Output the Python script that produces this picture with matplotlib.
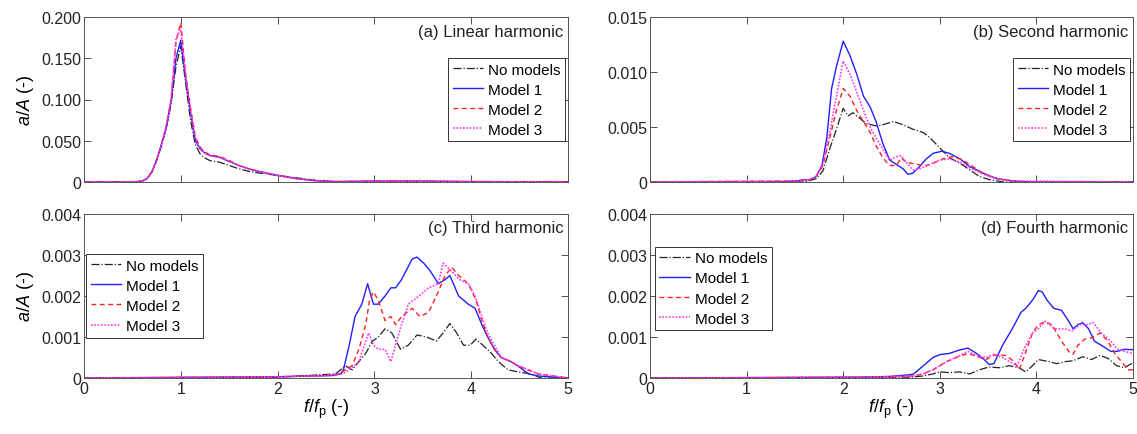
import matplotlib
matplotlib.use("Agg")
import matplotlib.pyplot as plt

plt.rcParams['font.family'] = ['Liberation Sans', 'DejaVu Sans']
plt.rcParams['mathtext.fontset'] = 'custom'
plt.rcParams['mathtext.rm'] = 'Liberation Sans'
plt.rcParams['mathtext.it'] = 'Liberation Sans:italic'
plt.rcParams['mathtext.bf'] = 'Liberation Sans:bold'

# ---------------- data ----------------
series_labels = ["No models", "Model 1", "Model 2", "Model 3"]
panel_titles = ["(a) Linear harmonic", "(b) Second harmonic",
                "(c) Third harmonic", "(d) Fourth harmonic"]

# (a) Linear harmonic
a_x = [0, 0.5, 0.6, 0.65, 0.7, 0.75, 0.8, 0.85, 0.9, 0.95, 1.0, 1.05, 1.1, 1.15,
       1.2, 1.25, 1.3, 1.4, 1.5, 1.6, 1.7, 1.8, 2.0, 2.2, 2.4, 2.6, 3.0, 3.5, 4.0, 4.5, 5.0]
a_none = [0, 0, 0.001, 0.004, 0.012, 0.026, 0.044, 0.065, 0.095, 0.14, 0.165, 0.12, 0.075, 0.045,
          0.034, 0.029, 0.026, 0.024, 0.020, 0.016, 0.013, 0.011, 0.008, 0.005, 0.002, 0.0005,
          0.0008, 0.0008, 0.0004, 0.0003, 0.0002]
a_m1 = [0, 0, 0.001, 0.004, 0.012, 0.026, 0.045, 0.066, 0.098, 0.15, 0.172, 0.125, 0.085, 0.05,
        0.040, 0.035, 0.032, 0.030, 0.025, 0.020, 0.016, 0.013, 0.008, 0.004, 0.0015, 0.0005,
        0.001, 0.001, 0.0005, 0.0003, 0.0002]
a_m2 = [0, 0, 0.001, 0.004, 0.012, 0.027, 0.046, 0.068, 0.10, 0.17, 0.193, 0.13, 0.09, 0.055,
        0.042, 0.036, 0.033, 0.031, 0.026, 0.020, 0.016, 0.013, 0.008, 0.004, 0.0015, 0.0005,
        0.001, 0.001, 0.0005, 0.0003, 0.0002]
a_m3 = [0, 0, 0.001, 0.004, 0.012, 0.027, 0.046, 0.068, 0.10, 0.173, 0.185, 0.13, 0.088, 0.053,
        0.041, 0.035, 0.032, 0.030, 0.025, 0.020, 0.016, 0.013, 0.008, 0.004, 0.0015, 0.0005,
        0.001, 0.001, 0.0005, 0.0003, 0.0002]

# (b) Second harmonic
b_none_x = [0, 1.6, 1.72, 1.79, 1.86, 1.93, 2.0, 2.05, 2.1, 2.17, 2.24, 2.34, 2.41, 2.52, 2.62,
            2.72, 2.83, 2.9, 3.0, 3.1, 3.21, 3.31, 3.41, 3.52, 3.66, 5.0]
b_none = [0, 0, 0.0003, 0.001, 0.003, 0.0048, 0.0067, 0.006, 0.0063, 0.0058, 0.0053, 0.0051,
          0.0052, 0.0055, 0.0052, 0.0048, 0.0045, 0.0040, 0.0031, 0.0022, 0.0017, 0.0011,
          0.0005, 0.0002, 0, 0]
b_m1_x = [0, 1.31, 1.52, 1.59, 1.66, 1.72, 1.78, 1.83, 1.88, 1.93, 2.0, 2.07, 2.14, 2.21, 2.28,
          2.34, 2.41, 2.48, 2.55, 2.62, 2.67, 2.72, 2.79, 2.86, 2.93, 3.02, 3.1, 3.21, 3.31,
          3.45, 3.59, 3.76, 3.93, 5.0]
b_m1 = [0, 0, 0.0001, 0.0002, 0.0002, 0.0005, 0.0015, 0.004, 0.0085, 0.0105, 0.0128, 0.0115,
        0.0098, 0.0078, 0.0068, 0.0055, 0.0035, 0.0020, 0.0016, 0.0012, 0.0007, 0.0008, 0.0014,
        0.0021, 0.0026, 0.0028, 0.0026, 0.0021, 0.0014, 0.0008, 0.0003, 0.0001, 0, 0]
b_m2_x = [0, 1.5, 1.65, 1.72, 1.79, 1.86, 1.93, 2.0, 2.07, 2.14, 2.21, 2.28, 2.34, 2.41, 2.48,
          2.55, 2.6, 2.65, 2.76, 2.86, 2.93, 3.03, 3.12, 3.21, 3.31, 3.41, 3.52, 3.66, 3.83, 5.0]
b_m2 = [0, 0.0001, 0.0002, 0.0005, 0.0015, 0.004, 0.0065, 0.0085, 0.0078, 0.0065, 0.0055,
        0.0045, 0.0033, 0.0022, 0.0015, 0.0015, 0.0022, 0.0018, 0.0016, 0.0015, 0.0017,
        0.0021, 0.0023, 0.0021, 0.0016, 0.0010, 0.0005, 0.0002, 0, 0]
b_m3_x = [0, 1.5, 1.65, 1.72, 1.79, 1.86, 1.93, 2.0, 2.07, 2.14, 2.21, 2.28, 2.34, 2.41, 2.48,
          2.55, 2.6, 2.65, 2.72, 2.79, 2.9, 3.0, 3.1, 3.21, 3.31, 3.45, 3.59, 3.76, 5.0]
b_m3 = [0, 0.0001, 0.0002, 0.0005, 0.0016, 0.0045, 0.0078, 0.011, 0.0098, 0.0082, 0.0065,
        0.0050, 0.0040, 0.0030, 0.0020, 0.0023, 0.0024, 0.0018, 0.0011, 0.0012, 0.0016,
        0.0020, 0.0021, 0.0018, 0.0013, 0.0007, 0.0003, 0.0001, 0]

# (c) Third harmonic
c_none_x = [0, 2.0, 2.6, 2.7, 2.77, 2.84, 2.91, 2.98, 3.04, 3.11, 3.18, 3.27, 3.35, 3.44, 3.54,
            3.64, 3.71, 3.78, 3.85, 3.92, 3.99, 4.05, 4.12, 4.21, 4.28, 4.38, 4.48, 4.62, 4.72, 5.0]
c_none = [0, 0.00002, 0.0001, 0.0003, 0.0002, 0.0004, 0.0006, 0.0009, 0.0010, 0.0012, 0.0011,
          0.0007, 0.0008, 0.00105, 0.0010, 0.0009, 0.0011, 0.00133, 0.0011, 0.0008, 0.0008,
          0.00095, 0.0008, 0.0006, 0.0004, 0.0002, 0.00015, 0.0001, 0, 0]
c_m1_x = [0, 2.0, 2.4, 2.57, 2.65, 2.68, 2.74, 2.80, 2.87, 2.93, 2.99, 3.04, 3.11, 3.17, 3.22,
          3.28, 3.39, 3.44, 3.51, 3.58, 3.66, 3.73, 3.78, 3.87, 3.97, 4.04, 4.11, 4.17, 4.24,
          4.31, 4.41, 4.48, 4.59, 4.69, 5.0]
c_m1 = [0, 0.00003, 0.00005, 0.00006, 0.0001, 0.0002, 0.0008, 0.0015, 0.0018, 0.0023, 0.0018,
        0.0018, 0.0020, 0.0022, 0.0022, 0.0024, 0.0029, 0.00295, 0.0028, 0.0026, 0.0023,
        0.0024, 0.0025, 0.0020, 0.0018, 0.0017, 0.0013, 0.0010, 0.0007, 0.0005, 0.0004,
        0.0003, 0.0001, 0.00005, 0]
c_m2_x = [0, 2.0, 2.5, 2.63, 2.70, 2.77, 2.84, 2.91, 2.95, 2.99, 3.04, 3.11, 3.17, 3.22, 3.28,
          3.39, 3.47, 3.56, 3.66, 3.73, 3.80, 3.87, 3.97, 4.05, 4.11, 4.17, 4.24, 4.31, 4.41,
          4.48, 4.59, 4.69, 5.0]
c_m2 = [0, 0.00003, 0.00006, 0.0001, 0.0002, 0.0003, 0.0007, 0.0013, 0.0019, 0.0021, 0.0019,
        0.0014, 0.0015, 0.0013, 0.0015, 0.0017, 0.0015, 0.0016, 0.0021, 0.0025, 0.0027,
        0.0025, 0.0023, 0.0019, 0.0014, 0.0010, 0.0007, 0.0005, 0.0004, 0.0003, 0.0002,
        0.0001, 0]
c_m3_x = [0, 2.0, 2.5, 2.67, 2.74, 2.84, 2.94, 2.99, 3.04, 3.11, 3.17, 3.23, 3.28, 3.35, 3.46,
          3.56, 3.66, 3.71, 3.80, 3.88, 3.97, 4.04, 4.11, 4.17, 4.24, 4.31, 4.41, 4.48, 4.59,
          4.69, 5.0]
c_m3 = [0, 0.00003, 0.00006, 0.0001, 0.0002, 0.0004, 0.0011, 0.0008, 0.0007, 0.0007, 0.0004,
        0.0009, 0.0013, 0.0018, 0.0020, 0.0022, 0.0023, 0.0028, 0.0026, 0.0024, 0.0023,
        0.0020, 0.0015, 0.0011, 0.0008, 0.0005, 0.0004, 0.0003, 0.0002, 0.0001, 0]

# (d) Fourth harmonic
d_none_x = [0, 2.7, 2.83, 2.93, 3.0, 3.1, 3.2, 3.31, 3.41, 3.51, 3.61, 3.72, 3.82, 3.89, 3.96,
            4.02, 4.13, 4.21, 4.3, 4.38, 4.48, 4.57, 4.66, 4.74, 4.83, 4.91, 5.0]
d_none = [0, 0.00002, 0.00005, 0.0001, 0.00015, 0.00013, 0.00015, 0.0001, 0.0002, 0.00027,
          0.00025, 0.0003, 0.00025, 0.00015, 0.0003, 0.00045, 0.0004, 0.00035, 0.0004,
          0.00042, 0.00052, 0.00045, 0.00055, 0.00048, 0.0003, 0.00025, 0.00037]
d_m1_x = [0, 2.2, 2.5, 2.69, 2.73, 2.83, 2.93, 3.0, 3.1, 3.2, 3.29, 3.38, 3.46, 3.51, 3.56,
          3.65, 3.75, 3.84, 3.89, 3.96, 4.02, 4.06, 4.11, 4.18, 4.26, 4.33, 4.38, 4.43, 4.48,
          4.54, 4.6, 4.67, 4.77, 4.84, 4.91, 5.0]
d_m1 = [0, 0.00002, 0.00004, 0.00008, 0.0001, 0.0003, 0.0005, 0.00057, 0.0006, 0.00068,
        0.00073, 0.0006, 0.00045, 0.00033, 0.00035, 0.0008, 0.0012, 0.0016, 0.0017, 0.0019,
        0.00213, 0.0021, 0.0019, 0.0017, 0.00165, 0.0014, 0.0012, 0.0013, 0.00135, 0.0012,
        0.0009, 0.0008, 0.00065, 0.00065, 0.0007, 0.00069]
d_m2_x = [0, 2.3, 2.6, 2.73, 2.83, 2.93, 3.0, 3.07, 3.17, 3.29, 3.38, 3.48, 3.55, 3.61, 3.68,
          3.77, 3.82, 3.87, 3.96, 4.02, 4.09, 4.16, 4.26, 4.35, 4.38, 4.43, 4.5, 4.57, 4.66,
          4.74, 4.81, 4.88, 4.95, 5.0]
d_m2 = [0, 0.00002, 0.00004, 0.00005, 0.0001, 0.0002, 0.0003, 0.0004, 0.0005, 0.0006,
        0.00053, 0.00045, 0.00055, 0.00057, 0.00055, 0.0004, 0.0002, 0.0005, 0.0011, 0.0013,
        0.00137, 0.0013, 0.0009, 0.0006, 0.00058, 0.0008, 0.00095, 0.00098, 0.0011, 0.0009,
        0.0006, 0.0004, 0.0002, 0.0002]
d_m3_x = [0, 2.3, 2.6, 2.73, 2.83, 2.93, 3.0, 3.07, 3.17, 3.29, 3.38, 3.48, 3.56, 3.65, 3.72,
          3.8, 3.89, 3.96, 4.02, 4.09, 4.19, 4.29, 4.37, 4.45, 4.52, 4.59, 4.67, 4.77, 4.84,
          4.91, 5.0]
d_m3 = [0, 0.00002, 0.00004, 0.00005, 0.0001, 0.0002, 0.0003, 0.0004, 0.0005, 0.00065,
        0.00055, 0.0005, 0.00058, 0.0005, 0.0004, 0.0003, 0.0008, 0.0011, 0.0012, 0.00138,
        0.0012, 0.0012, 0.00115, 0.0013, 0.0013, 0.00135, 0.0011, 0.0009, 0.0007, 0.00065,
        0.0006]

x_ticks = [0, 1, 2, 3, 4, 5]
x_ticklabels = ["0", "1", "2", "3", "4", "5"]
a_yticks = [0, 0.05, 0.10, 0.15, 0.20]
a_yticklabels = ["0", "0.050", "0.100", "0.150", "0.200"]
b_yticks = [0, 0.005, 0.010, 0.015]
b_yticklabels = ["0", "0.005", "0.010", "0.015"]
cd_yticks = [0, 0.001, 0.002, 0.003, 0.004]
cd_yticklabels = ["0", "0.001", "0.002", "0.003", "0.004"]

# ---------------- styling ----------------
styles = [dict(color="#222222", ls="-.", lw=0.9),
          dict(color="#1f1fff", ls="-", lw=1.0),
          dict(color="#ff1f1f", ls=(0, (3.5, 2.5)), lw=1.0),
          dict(color="#ff33ff", ls=(0, (1, 1)), lw=1.2)]

fig = plt.figure(figsize=(11.37, 4.35), dpi=100)
W, H = 1137, 435

def add_ax(left, right, top, bottom):
    return fig.add_axes([left / W, 1 - bottom / H, (right - left) / W, (bottom - top) / H])

ax_a = add_ax(84, 568, 18, 183)
ax_b = add_ax(650, 1133, 18, 183)
ax_c = add_ax(84, 568, 215, 379)
ax_d = add_ax(650, 1133, 215, 379)

panels = [
    (ax_a, [(a_x, a_none), (a_x, a_m1), (a_x, a_m2), (a_x, a_m3)], a_yticks, a_yticklabels,
     0.2, ("upper right", (0.994, 0.752)), 0.91),
    (ax_b, [(b_none_x, b_none), (b_m1_x, b_m1), (b_m2_x, b_m2), (b_m3_x, b_m3)], b_yticks,
     b_yticklabels, 0.015, ("upper right", (0.994, 0.752)), 0.91),
    (ax_c, [(c_none_x, c_none), (c_m1_x, c_m1), (c_m2_x, c_m2), (c_m3_x, c_m3)], cd_yticks,
     cd_yticklabels, 0.004, ("upper left", (0.004, 0.756)), 0.915),
    (ax_d, [(d_none_x, d_none), (d_m1_x, d_m1), (d_m2_x, d_m2), (d_m3_x, d_m3)], cd_yticks,
     cd_yticklabels, 0.004, ("upper left", (0.01, 0.80)), 0.915),
]

for i, (ax, data, yt, ytl, ymax, (lloc, lanchor), ty) in enumerate(panels):
    for (xs, ys), st, lab in zip(data, styles, series_labels):
        ax.plot(xs, ys, label=lab, **st)
    ax.set_xlim(0, 5)
    ax.set_ylim(0, ymax)
    ax.set_xticks(x_ticks)
    ax.set_yticks(yt)
    ax.set_yticklabels(ytl)
    if i >= 2:
        ax.set_xticklabels(x_ticklabels)
        ax.set_xlabel(r"$f/f_{\rm p}$ (-)", fontsize=13, labelpad=1)
    else:
        ax.set_xticklabels([])
    if i % 2 == 0:
        ax.set_ylabel(r"$a/A$ (-)", fontsize=13, labelpad=4)
    ax.tick_params(direction="in", length=5, width=0.6, top=True, right=True,
                   labelsize=11.5, colors="#333333", labelcolor="#222222", pad=2)
    for sp in ax.spines.values():
        sp.set_color("#555555")
        sp.set_linewidth(0.7)
    ax.text(0.99, ty, panel_titles[i], transform=ax.transAxes, ha="right", va="center",
            fontsize=12, color="#222222")
    leg = ax.legend(loc=lloc, bbox_to_anchor=lanchor, borderaxespad=0, fontsize=11,
                    frameon=True, fancybox=False, framealpha=1, edgecolor="#333333",
                    handlelength=2.0, handletextpad=0.3, labelspacing=0.4,
                    borderpad=0.3)
    leg.get_frame().set_linewidth(0.7)

fig.savefig("out.png", dpi=100)
